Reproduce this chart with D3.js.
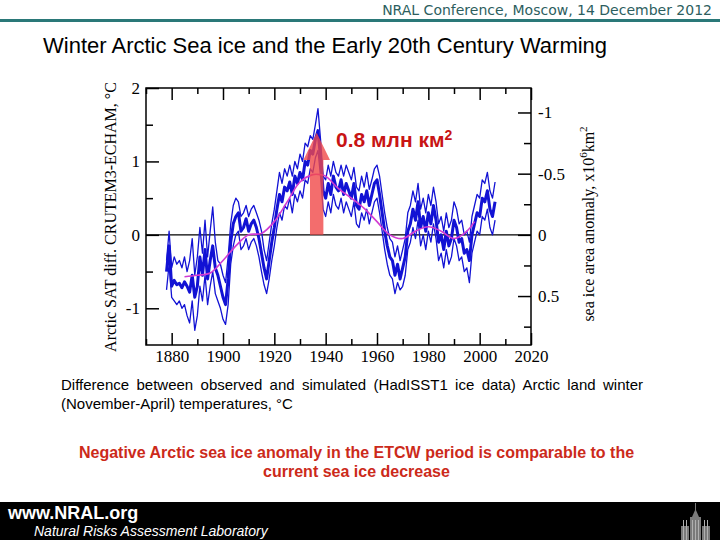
<!DOCTYPE html>
<html><head><meta charset="utf-8">
<script src="https://cdn.jsdelivr.net/npm/d3@7"></script>
<style>body{margin:0;background:#fff;} svg{display:block;}</style>
</head><body>
<script>
// ---- data ----
const years = d3.range(1878, 2007);
const meanSAT = [-0.50,-0.15,-0.70,-0.62,-0.68,-0.66,-0.72,-0.64,-0.70,-0.78,
 -0.55,-0.85,-0.70,-0.30,-0.55,-0.20,-0.60,-0.35,-0.15,-0.45,
 -0.55,-0.70,-0.85,-0.95,-0.60,-0.10,0.15,0.25,0.30,0.05,
 0.10,0.22,0.05,0.15,0.20,0.10,-0.05,-0.25,-0.45,-0.60,
 -0.35,-0.10,0.10,0.35,0.55,0.45,0.65,0.60,0.72,0.55,
 0.80,0.70,0.85,0.75,1.00,0.95,1.15,1.10,1.30,1.42,
 1.05,0.60,0.50,0.70,0.55,0.80,0.65,0.60,0.75,0.55,
 0.70,0.60,0.50,0.70,0.40,0.35,0.55,0.45,0.60,0.40,
 0.55,0.70,0.75,0.55,0.30,0.05,-0.15,-0.30,-0.35,-0.55,
 -0.40,-0.60,-0.45,-0.30,0.05,0.15,0.35,0.20,0.45,0.10,
 0.25,0.05,0.30,0.15,0.40,0.20,-0.10,0.00,-0.20,0.05,
 -0.15,-0.05,0.20,0.10,-0.10,-0.05,-0.25,-0.20,-0.35,0.00,
 0.15,0.30,0.25,0.50,0.45,0.60,0.35,0.25,0.45];
const upperSAT = [-0.35,0.05,-0.45,-0.30,-0.40,-0.35,-0.45,-0.30,-0.50,-0.35,
 -0.05,-0.55,-0.30,0.10,-0.25,0.20,-0.30,0.05,0.38,-0.10,
 -0.35,-0.40,-0.55,-0.65,-0.30,0.15,0.40,0.50,0.45,0.25,
 0.30,0.40,0.25,0.35,0.40,0.30,0.20,0.05,-0.20,-0.35,
 -0.10,0.15,0.35,0.60,0.85,0.70,0.90,0.80,0.95,0.80,
 1.00,0.90,1.10,1.00,1.25,1.20,1.35,1.30,1.50,1.72,
 1.30,0.80,0.75,0.95,0.80,1.00,0.85,0.80,0.95,0.80,
 0.95,0.85,0.75,0.92,0.65,0.60,0.80,0.65,0.85,0.62,
 0.75,0.90,0.95,0.80,0.55,0.30,0.10,-0.05,-0.10,-0.30,
 -0.15,-0.35,-0.20,-0.05,0.30,0.40,0.60,0.45,0.70,0.35,
 0.50,0.30,0.55,0.40,0.65,0.45,0.15,0.25,0.05,0.30,
 0.10,0.20,0.45,0.35,0.15,0.20,0.00,0.05,-0.10,0.25,
 0.40,0.55,0.50,0.75,0.70,0.85,0.60,0.50,0.72];
const lowerSAT = [-0.75,-0.40,-0.85,-0.90,-0.95,-0.90,-1.00,-0.95,-1.10,-1.20,
 -0.90,-1.30,-1.10,-0.70,-0.90,-0.55,-0.95,-0.70,-0.50,-0.80,
 -0.90,-1.00,-1.15,-1.22,-0.95,-0.40,-0.15,0.00,0.05,-0.20,
 -0.15,-0.05,-0.20,-0.10,-0.05,-0.15,-0.30,-0.50,-0.68,-0.80,
 -0.60,-0.35,-0.15,0.10,0.30,0.20,0.40,0.35,0.50,0.30,
 0.55,0.45,0.60,0.50,0.75,0.70,0.90,0.85,1.05,1.15,
 0.80,0.35,0.25,0.45,0.30,0.55,0.40,0.35,0.50,0.30,
 0.45,0.35,0.25,0.45,0.15,0.10,0.30,0.20,0.35,0.15,
 0.30,0.45,0.50,0.30,0.05,-0.20,-0.40,-0.55,-0.60,-0.80,
 -0.65,-0.75,-0.70,-0.55,-0.20,-0.10,0.10,-0.05,0.20,-0.15,
 0.00,-0.20,0.05,-0.10,0.15,-0.05,-0.35,-0.25,-0.45,-0.20,
 -0.40,-0.30,-0.05,-0.15,-0.35,-0.30,-0.50,-0.45,-0.65,-0.25,
 -0.10,0.05,0.00,0.25,0.20,0.35,0.10,0.00,0.20];
const smoothYears = [1885,1890,1895,1900,1905,1910,1915,1920,1925,1930,1935,1938,1940,1945,1950,1955,1960,1965,1970,1975,1980,1985,1990,1995,1998];
const smoothSAT   = [-0.57,-0.55,-0.52,-0.35,-0.15,0.00,0.02,0.18,0.45,0.72,0.82,0.82,0.80,0.63,0.50,0.36,0.18,0.00,-0.05,0.05,0.11,0.05,-0.05,0.05,0.18];
const xMajorTicks = [1880,1900,1920,1940,1960,1980,2000,2020];
const xMinorTicks = [1870,1890,1910,1930,1950,1970,1990,2010];
const leftMajorTicks = [2,1,0,-1];
const leftMinorTicks = [1.5,0.5,-0.5];
const rightMajorTicks = [-1,-0.5,0,0.5];
const rightMinorTicks = [-0.75,-0.25,0.25,0.75];
const arrowYear = 1936.5, arrowBase = 0, arrowHeadBase = 1.02, arrowTip = 1.39;

// ---- drawing ----
const W = 720, H = 540;
const svg = d3.select("body").append("svg").attr("width", W).attr("height", H);
svg.append("rect").attr("width", W).attr("height", H).attr("fill", "#fff");

// header
svg.append("text").attr("x", 712).attr("y", 15).attr("text-anchor", "end")
  .attr("font-family", "DejaVu Sans").attr("font-size", 14).attr("fill", "#2d5e5e")
  .text("NRAL Conference, Moscow, 14 December 2012");
svg.append("line").attr("x1", 0).attr("x2", W).attr("y1", 20.5).attr("y2", 20.5)
  .attr("stroke", "#2a7878").attr("stroke-width", 3);

svg.append("text").attr("x", 43).attr("y", 53)
  .attr("font-family", "Liberation Sans").attr("font-size", 22).attr("fill", "#000")
  .text("Winter Arctic Sea ice and the Early 20th Century Warming");

const L = 146, R = 531, T = 88, B = 345;
const x = d3.scaleLinear().domain([1870, 2020]).range([L, R]);
const y = d3.scaleLinear().domain([-1.5, 2]).range([B, T]);
const yR = d3.scaleLinear().domain([0.9, -1.2]).range([B, T]);

const serif = "Liberation Serif";
function styleAxis(g) {
  g.select(".domain").remove();
  g.selectAll("line").attr("stroke", "#000").attr("stroke-width", 1.5);
  g.selectAll("text").attr("font-family", serif).attr("font-size", 17).attr("fill", "#000");
}
const fmt = d => String(d);
// bottom
svg.append("g").attr("transform", `translate(0,${B})`)
  .call(d3.axisBottom(x).tickValues(xMajorTicks).tickSize(-12).tickPadding(5).tickFormat(fmt)).call(styleAxis);
svg.append("g").attr("transform", `translate(0,${B})`)
  .call(d3.axisBottom(x).tickValues(xMinorTicks).tickSize(-6).tickFormat("")).call(styleAxis);
// top
svg.append("g").attr("transform", `translate(0,${T})`)
  .call(d3.axisTop(x).tickValues(xMajorTicks).tickSize(-12).tickFormat("")).call(styleAxis);
svg.append("g").attr("transform", `translate(0,${T})`)
  .call(d3.axisTop(x).tickValues(xMinorTicks).tickSize(-6).tickFormat("")).call(styleAxis);
// left
svg.append("g").attr("transform", `translate(${L},0)`)
  .call(d3.axisLeft(y).tickValues(leftMajorTicks).tickSize(-13).tickPadding(6).tickFormat(fmt)).call(styleAxis);
svg.append("g").attr("transform", `translate(${L},0)`)
  .call(d3.axisLeft(y).tickValues(leftMinorTicks).tickSize(-7).tickFormat("")).call(styleAxis);
// right
svg.append("g").attr("transform", `translate(${R},0)`)
  .call(d3.axisRight(yR).tickValues(rightMajorTicks).tickSize(-13).tickPadding(7).tickFormat(fmt)).call(styleAxis);
svg.append("g").attr("transform", `translate(${R},0)`)
  .call(d3.axisRight(yR).tickValues(rightMinorTicks).tickSize(-7).tickFormat("")).call(styleAxis);

// zero line
svg.append("line").attr("x1", L).attr("x2", R).attr("y1", y(0)).attr("y2", y(0))
  .attr("stroke", "#000").attr("stroke-width", 1.3);

const blue = "#1212d4";
const line = d3.line().x((d, i) => x(years[i])).y(d => y(d));
[upperSAT, lowerSAT].forEach(s => {
  svg.append("path").datum(s).attr("d", line).attr("fill", "none")
    .attr("stroke", blue).attr("stroke-width", 1.3).attr("stroke-linejoin", "round");
});
svg.append("path").datum(meanSAT).attr("d", line).attr("fill", "none")
  .attr("stroke", blue).attr("stroke-width", 3).attr("stroke-linejoin", "round");

const sline = d3.line().x((d, i) => x(smoothYears[i])).y(d => y(d)).curve(d3.curveCatmullRom);
svg.append("path").datum(smoothSAT).attr("d", sline).attr("fill", "none")
  .attr("stroke", "#d23cd2").attr("stroke-width", 1.6);

// arrow
const ax = x(arrowYear), sw = 6.7, hw = 13.3;
const arrowPts = [[ax - sw, y(arrowBase)], [ax - sw, y(arrowHeadBase)], [ax - hw, y(arrowHeadBase)],
  [ax, y(arrowTip)], [ax + hw, y(arrowHeadBase)], [ax + sw, y(arrowHeadBase)], [ax + sw, y(arrowBase)]];
svg.append("path").attr("d", d3.line()(arrowPts) + "Z").attr("fill", "#f04848").attr("opacity", 0.8);

// frame
svg.append("rect").attr("x", L).attr("y", T).attr("width", R - L).attr("height", B - T)
  .attr("fill", "none").attr("stroke", "#000").attr("stroke-width", 1.5);

// annotation
const ann = svg.append("text").attr("x", 336).attr("y", 147)
  .attr("font-family", "Liberation Sans").attr("font-weight", "bold").attr("font-size", 21).attr("fill", "#c81414");
ann.append("tspan").text("0.8 млн км");
ann.append("tspan").attr("font-size", 14).attr("dy", -7).text("2");

// axis titles
svg.append("text").attr("transform", "translate(116,217) rotate(-90)").attr("text-anchor", "middle")
  .attr("font-family", serif).attr("font-size", 16).attr("fill", "#000")
  .text("Arctic SAT diff. CRUTEM3-ECHAM, °C");
const rt = svg.append("text").attr("transform", "translate(594,224) rotate(-90)").attr("text-anchor", "middle")
  .attr("font-family", serif).attr("font-size", 16).attr("fill", "#000");
rt.append("tspan").text("sea ice area anomaly, x10");
rt.append("tspan").attr("font-size", 11).attr("dy", -7).text("6");
rt.append("tspan").attr("dy", 7).text("km");
rt.append("tspan").attr("font-size", 11).attr("dy", -7).text("2");

// caption (justified first line)
const cap1 = svg.append("text").attr("x", 61).attr("y", 390)
  .attr("font-family", "Liberation Sans").attr("font-size", 15).attr("fill", "#000")
  .text("Difference between observed and simulated (HadISST1 ice data) Arctic land winter");
const natural = cap1.node().getComputedTextLength();
const nSp = (cap1.text().match(/ /g) || []).length;
cap1.attr("word-spacing", (643 - 61 - natural) / nSp);
svg.append("text").attr("x", 61).attr("y", 409)
  .attr("font-family", "Liberation Sans").attr("font-size", 15).attr("fill", "#000")
  .text("(November-April) temperatures, °C");

// conclusion
["Negative Arctic sea ice anomaly in the ETCW period is comparable to the", "current sea ice decrease"]
  .forEach((t, i) => svg.append("text").attr("x", 356.5).attr("y", 458 + i * 19).attr("text-anchor", "middle")
    .attr("font-family", "Liberation Sans").attr("font-weight", "bold").attr("font-size", 16).attr("fill", "#cc2a1a").text(t));

// footer
svg.append("rect").attr("x", 0).attr("y", 502).attr("width", W).attr("height", 38).attr("fill", "#000");
svg.append("text").attr("x", 8).attr("y", 519).attr("font-family", "Liberation Sans").attr("font-weight", "bold")
  .attr("font-size", 18).attr("fill", "#fff").text("www.NRAL.org");
svg.append("text").attr("x", 34).attr("y", 536).attr("font-family", "Liberation Sans").attr("font-style", "italic")
  .attr("font-size", 14).attr("fill", "#fff").text("Natural Risks Assessment Laboratory");
// building icon
const bld = svg.append("g").attr("fill", "#7a7a7a");
bld.append("rect").attr("x", 681).attr("y", 526).attr("width", 8).attr("height", 14);
bld.append("rect").attr("x", 702).attr("y", 526).attr("width", 8).attr("height", 14);
bld.append("rect").attr("x", 690).attr("y", 517).attr("width", 11).attr("height", 23);
bld.append("path").attr("d", "M692,517 L695.5,509 L699,517 Z");
bld.append("rect").attr("x", 695).attr("y", 503).attr("width", 1).attr("height", 7);
const stripes = svg.append("g").attr("fill", "#b0b0b0");
[692, 695, 698, 683, 686, 704, 707].forEach(sx => stripes.append("rect").attr("x", sx).attr("y", 520).attr("width", 1).attr("height", 20));
</script>
</body></html>
